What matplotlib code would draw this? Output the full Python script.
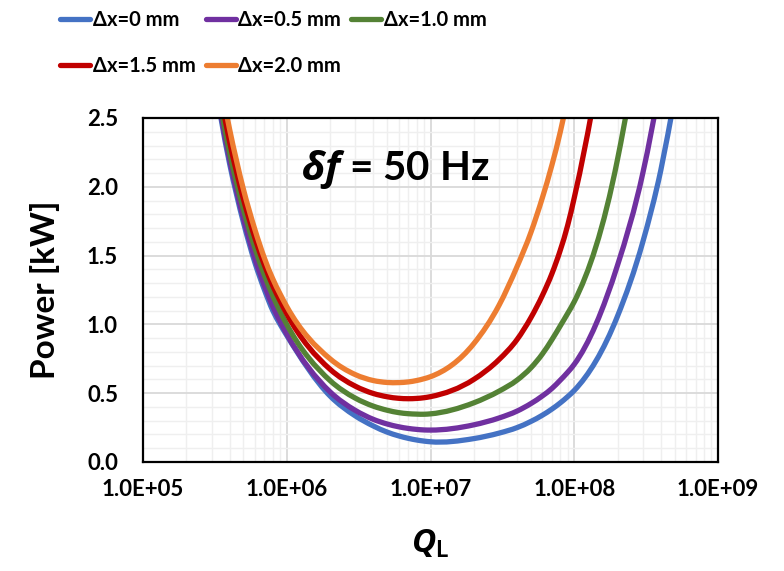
import math
import matplotlib
matplotlib.use("Agg")
import matplotlib.pyplot as plt
from matplotlib.path import Path
from matplotlib.patches import PathPatch
from matplotlib.lines import Line2D
from matplotlib.ticker import FixedLocator, FuncFormatter, MultipleLocator, LogLocator, NullFormatter

# Loaded quality factor points (Excel-style: 1..9 per decade)
q_l = [3e5, 4e5, 5e5, 6e5, 7e5, 8e5, 9e5,
       1e6, 2e6, 3e6, 4e6, 5e6, 6e6, 7e6, 8e6, 9e6,
       1e7, 2e7, 3e7, 4e7, 5e7, 6e7, 7e7, 8e7, 9e7,
       1e8, 2e8, 3e8, 4e8, 5e8]

# Forward power [kW] for each offset
p_dx00 = [2.88, 2.17, 1.74, 1.45, 1.25, 1.10, 1.00,
          0.92, 0.48, 0.335, 0.262, 0.217, 0.19, 0.172, 0.16, 0.152,
          0.147, 0.17, 0.21, 0.25, 0.295, 0.34, 0.385, 0.43, 0.475,
          0.52, 1.06, 1.60, 2.12, 2.65]
p_dx05 = [2.90, 2.20, 1.77, 1.48, 1.28, 1.13, 1.02,
          0.93, 0.51, 0.375, 0.31, 0.276, 0.256, 0.244, 0.237, 0.233,
          0.232, 0.27, 0.32, 0.37, 0.425, 0.48, 0.535, 0.595, 0.652,
          0.71, 1.43, 2.10, 2.78, 3.45]
p_dx10 = [2.95, 2.25, 1.835, 1.556, 1.357, 1.208, 1.093,
          1.00, 0.592, 0.464, 0.406, 0.376, 0.359, 0.351, 0.348, 0.347,
          0.35, 0.43, 0.515, 0.595, 0.685, 0.785, 0.89, 0.99, 1.08,
          1.165, 2.20, 3.30, 4.40, 5.50]
p_dx15 = [3.03, 2.33, 1.91, 1.63, 1.43, 1.28, 1.17,
          1.077, 0.674, 0.551, 0.498, 0.474, 0.463, 0.46, 0.462, 0.467,
          0.475, 0.60, 0.745, 0.89, 1.05, 1.21, 1.37, 1.54, 1.72,
          1.92, 3.80, 5.50, 7.00, 8.50]
p_dx20 = [3.12, 2.42, 1.98, 1.69, 1.48, 1.33, 1.22,
          1.13, 0.75, 0.635, 0.592, 0.578, 0.577, 0.582, 0.592, 0.605,
          0.62, 0.86, 1.14, 1.42, 1.67, 1.92, 2.16, 2.40, 2.65,
          2.90, 5.50, 7.50, 9.00, 10.5]

labels = ["\u0394x=0 mm", "\u0394x=0.5 mm", "\u0394x=1.0 mm", "\u0394x=1.5 mm", "\u0394x=2.0 mm"]
colors = ["#4472C4", "#7030A0", "#548235", "#C00000", "#ED7D31"]
series = [p_dx00, p_dx05, p_dx10, p_dx15, p_dx20]


def smooth_path(xs, ys):
    # smoothed line like Excel: cubic Bezier through the points, in log-x space
    t = [math.log10(v) for v in xs]
    n = len(t)
    h = [t[i + 1] - t[i] for i in range(n - 1)]
    d = [(ys[i + 1] - ys[i]) / h[i] for i in range(n - 1)]
    m = [d[0]]
    for i in range(1, n - 1):
        m.append((h[i - 1] * d[i] + h[i] * d[i - 1]) / (h[i - 1] + h[i]))
    m.append(d[-1])
    verts = [(xs[0], ys[0])]
    codes = [Path.MOVETO]
    for i in range(n - 1):
        c1 = (10 ** (t[i] + h[i] / 3), ys[i] + m[i] * h[i] / 3)
        c2 = (10 ** (t[i + 1] - h[i] / 3), ys[i + 1] - m[i + 1] * h[i] / 3)
        verts += [c1, c2, (xs[i + 1], ys[i + 1])]
        codes += [Path.CURVE4] * 3
    return Path(verts, codes)


plt.rcParams['font.family'] = ['Lato', 'DejaVu Sans']
plt.rcParams['font.weight'] = 'bold'
plt.rcParams['mathtext.fontset'] = 'custom'
plt.rcParams['mathtext.it'] = 'Open Sans:italic:bold'
plt.rcParams['mathtext.rm'] = 'Lato'

fig = plt.figure(figsize=(7.84, 5.71), dpi=100)
ax = fig.add_axes([143/784, 109/571, 575/784, 344/571])

handles = []
for y, c, lab in zip(series, colors, labels):
    ax.add_patch(PathPatch(smooth_path(q_l, y), facecolor='none', edgecolor=c,
                           lw=3.8, capstyle='butt', joinstyle='round'))
    handles.append(Line2D([], [], color=c, lw=3.8, solid_capstyle='round'))

ax.set_xscale('log')
ax.set_xlim(1e5, 1e9)
ax.set_ylim(0, 2.5)
ax.xaxis.set_major_locator(FixedLocator([1e5, 1e6, 1e7, 1e8, 1e9]))
ax.xaxis.set_minor_locator(LogLocator(base=10, subs=range(2, 10)))
ax.xaxis.set_minor_formatter(NullFormatter())
ax.xaxis.set_major_formatter(FuncFormatter(lambda v, p: "1.0E+%02d" % round(math.log10(v))))
ax.yaxis.set_major_locator(MultipleLocator(0.5))
ax.yaxis.set_minor_locator(MultipleLocator(0.1))
ax.yaxis.set_major_formatter(FuncFormatter(lambda v, p: "%.1f" % v))

ax.grid(which='major', color='#d9d9d9', lw=1.3)
ax.grid(which='minor', color='#efefef', lw=1.0)
ax.set_axisbelow(True)
ax.tick_params(axis='x', which='both', length=0, labelsize=16, pad=12)
ax.tick_params(axis='y', which='both', length=0, labelsize=16, pad=18)
for lab in ax.get_xticklabels() + ax.get_yticklabels():
    lab.set_fontweight('bold')
for s in ax.spines.values():
    s.set_color('black')
    s.set_linewidth(1.6)

ax.set_ylabel("Power [kW]", fontsize=24, fontweight='bold', labelpad=19)
ax.set_xlabel(r"$Q_{\mathrm{L}}$", fontsize=24, labelpad=20)

ax.text(0.275, 0.85, r"$\delta f$ = 50 Hz", transform=ax.transAxes,
        fontsize=29, fontweight='bold', va='center')

order = [0, 3, 1, 4, 2]
fig.legend([handles[i] for i in order], [labels[i] for i in order],
           ncol=3, loc='upper left', bbox_to_anchor=(50/784, 1.0),
           frameon=False, fontsize=14.5, handlelength=1.5, handletextpad=0.12,
           columnspacing=0.5, labelspacing=1.3, borderaxespad=0.1)

fig.savefig("out.png", dpi=100)
